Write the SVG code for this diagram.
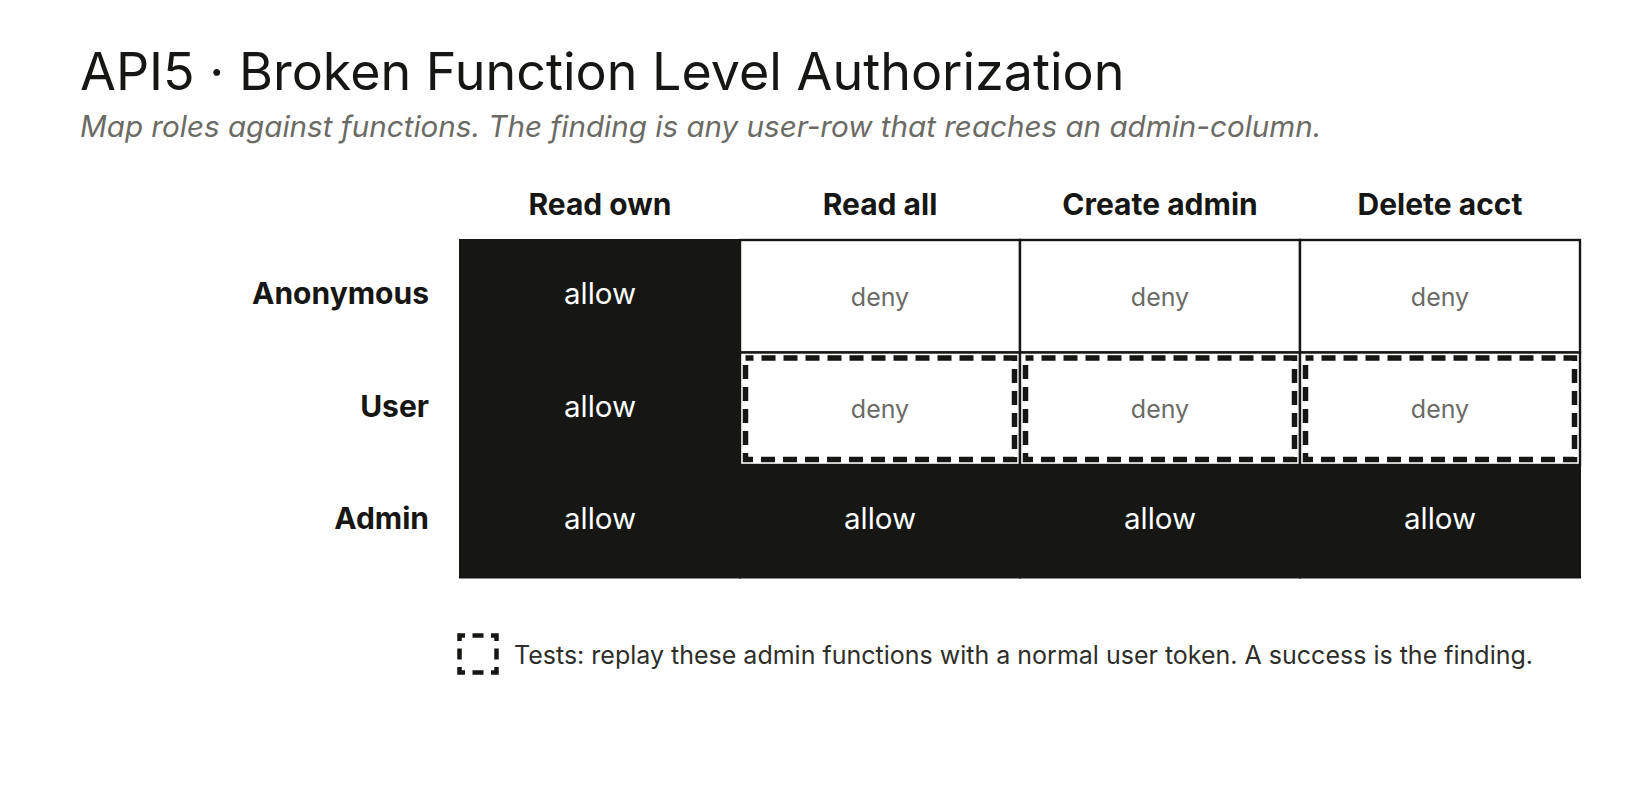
<svg xmlns="http://www.w3.org/2000/svg" width="1640" height="800" viewBox="0 0 1640 800">
<style>
.title{font-family:Inter,"Liberation Sans",sans-serif;font-size:52px;font-weight:400;fill:#161614}
.sub{font-family:Inter,"Liberation Sans",sans-serif;font-size:29.6px;font-style:italic;fill:#6b6b66}
.hdr{font-family:Inter,"Liberation Sans",sans-serif;font-size:30px;font-weight:700;fill:#161614;text-anchor:middle}
.row{font-family:Inter,"Liberation Sans",sans-serif;font-size:30px;font-weight:700;fill:#161614;text-anchor:end}
.allow{font-family:Inter,"Liberation Sans",sans-serif;font-size:29.5px;fill:#ffffff;text-anchor:middle}
.deny{font-family:Inter,"Liberation Sans",sans-serif;font-size:25px;fill:#6b6b66;text-anchor:middle}
.dark{fill:#161614;stroke:#161614;stroke-width:2}
.light{fill:#ffffff;stroke:#161614;stroke-width:2.4}
.test{fill:none;stroke:#161614;stroke-width:5.5;stroke-dasharray:14 8;stroke-dashoffset:6}
.legbox{fill:none;stroke:#161614;stroke-width:4.5;stroke-dasharray:11 7.5;stroke-dashoffset:5.5}
.legtext{font-family:Inter,"Liberation Sans",sans-serif;font-size:25px;fill:#2e2e2b}
</style>
<rect width="1640" height="800" fill="#ffffff"/>
<text class="title" x="80" y="90">API5 · Broken Function Level Authorization</text>
<text class="sub" x="80" y="137">Map roles against functions. The finding is any user-row that reaches an admin-column.</text>

<g id="headers">
<text class="hdr" x="600" y="215">Read own</text>
<text class="hdr" x="880" y="215">Read all</text>
<text class="hdr" x="1160" y="215">Create admin</text>
<text class="hdr" x="1440" y="215">Delete acct</text>
</g>
<g id="roles">
<text class="row" x="429" y="304">Anonymous</text>
<text class="row" x="429" y="416.5">User</text>
<text class="row" x="429" y="529">Admin</text>
</g>

<g id="anon-readown"><rect class="dark" x="460" y="240" width="280" height="112.5"/><text class="allow" x="600" y="304">allow</text></g>
<g id="user-readown"><rect class="dark" x="460" y="352.5" width="280" height="112.5"/><text class="allow" x="600" y="416.5">allow</text></g>
<g id="admin-readown"><rect class="dark" x="460" y="465" width="280" height="112.5"/><text class="allow" x="600" y="529">allow</text></g>
<g id="admin-readall"><rect class="dark" x="740" y="465" width="280" height="112.5"/><text class="allow" x="880" y="529">allow</text></g>
<g id="admin-createadmin"><rect class="dark" x="1020" y="465" width="280" height="112.5"/><text class="allow" x="1160" y="529">allow</text></g>
<g id="admin-deleteacct"><rect class="dark" x="1300" y="465" width="280" height="112.5"/><text class="allow" x="1440" y="529">allow</text></g>

<g id="anon-readall"><rect class="light" x="740" y="240" width="280" height="112.5"/><text class="deny" x="880" y="305.5">deny</text></g>
<g id="anon-createadmin"><rect class="light" x="1020" y="240" width="280" height="112.5"/><text class="deny" x="1160" y="305.5">deny</text></g>
<g id="anon-deleteacct"><rect class="light" x="1300" y="240" width="280" height="112.5"/><text class="deny" x="1440" y="305.5">deny</text></g>

<g id="user-readall"><rect class="light" x="740" y="352.5" width="280" height="112.5"/><rect class="test" x="745.5" y="358" width="269" height="101.5"/><text class="deny" x="880" y="418">deny</text></g>
<g id="user-createadmin"><rect class="light" x="1020" y="352.5" width="280" height="112.5"/><rect class="test" x="1025.5" y="358" width="269" height="101.5"/><text class="deny" x="1160" y="418">deny</text></g>
<g id="user-deleteacct"><rect class="light" x="1300" y="352.5" width="280" height="112.5"/><rect class="test" x="1305.5" y="358" width="269" height="101.5"/><text class="deny" x="1440" y="418">deny</text></g>

<g id="legend">
<rect class="legbox" x="459.5" y="635.5" width="37" height="37"/>
<text class="legtext" x="514" y="664">Tests: replay these admin functions with a normal user token. A success is the finding.</text>
</g>
</svg>
